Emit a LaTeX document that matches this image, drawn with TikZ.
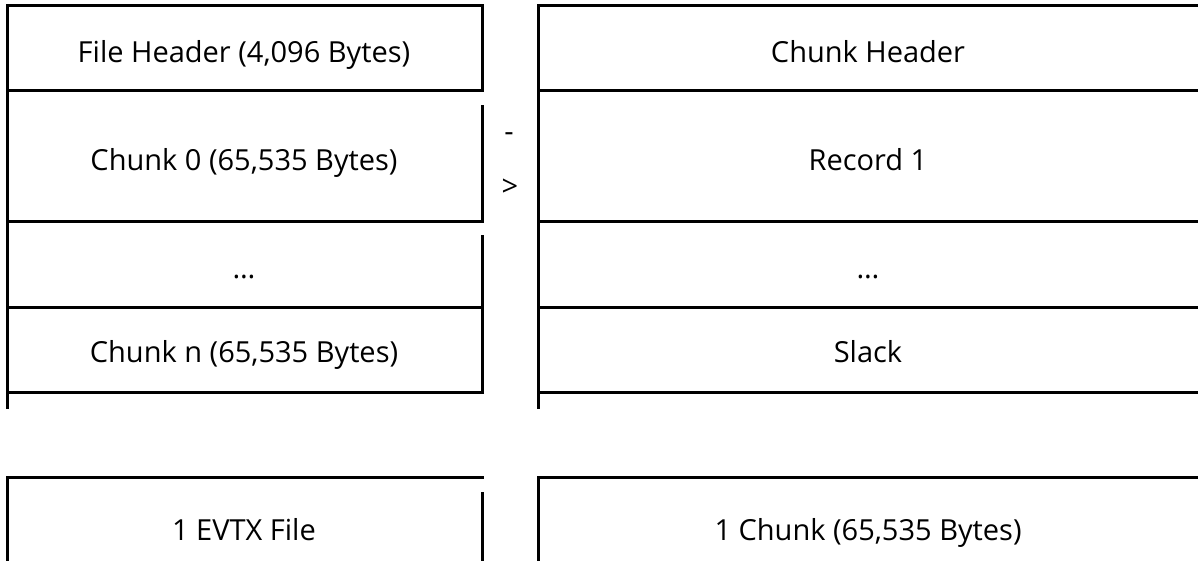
\documentclass[tikz,border=0pt]{standalone}
\usepackage{fontspec}
\setmainfont{Open Sans}
\begin{document}
\begin{tikzpicture}[x=1pt,y=-1pt,
  rule/.style={line width=3pt, line cap=rect, black},
  cell/.style={font=\fontsize{29}{33}\selectfont, inner sep=0pt, anchor=base, text=black}]
\useasboundingbox (0,0) rectangle (1198,560);
\fill[white] (0,0) rectangle (1198,560);
% left table
\draw[rule] (7,5) -- (7,407);
\foreach \y in {5,90,221,307,392} \draw[rule] (7,\y) -- (482,\y);
\draw[rule] (482,5) -- (482,90);
\draw[rule] (482,106) -- (482,221);
\draw[rule] (482,236) -- (482,392);
% right table
\draw[rule] (538,5) -- (538,407);
\foreach \y in {5,90,221,307,392} \draw[rule] (538,\y) -- (1200,\y);
% bottom boxes
\draw[rule] (7,562) -- (7,477) -- (482,477);
\draw[rule] (482,493) -- (482,562);
\draw[rule] (538,562) -- (538,477) -- (1200,477);
% texts
\node[cell] (fh) at (244,62) {File Header (4,096 Bytes)};
\node[cell] (c0) at (244,170) {Chunk 0 (65,535 Bytes)};
\node[cell] (ld) at (244,278) {…};
\node[cell] (cn) at (244,362) {Chunk n (65,535 Bytes)};
\node[cell] (ch) at (868,62) {Chunk Header};
\node[cell] (r1) at (868,170) {Record 1};
\node[cell] (rd) at (868,278) {…};
\node[cell] (sl) at (868,362) {Slack};
\node[cell] (a1) at (509,141) {-};
\node[cell] (a2) at (510,196) {>};
\node[cell] (ef) at (244,540) {1 EVTX File};
\node[cell] (ck) at (868,540) {1 Chunk (65,535 Bytes)};
\end{tikzpicture}
\end{document}
